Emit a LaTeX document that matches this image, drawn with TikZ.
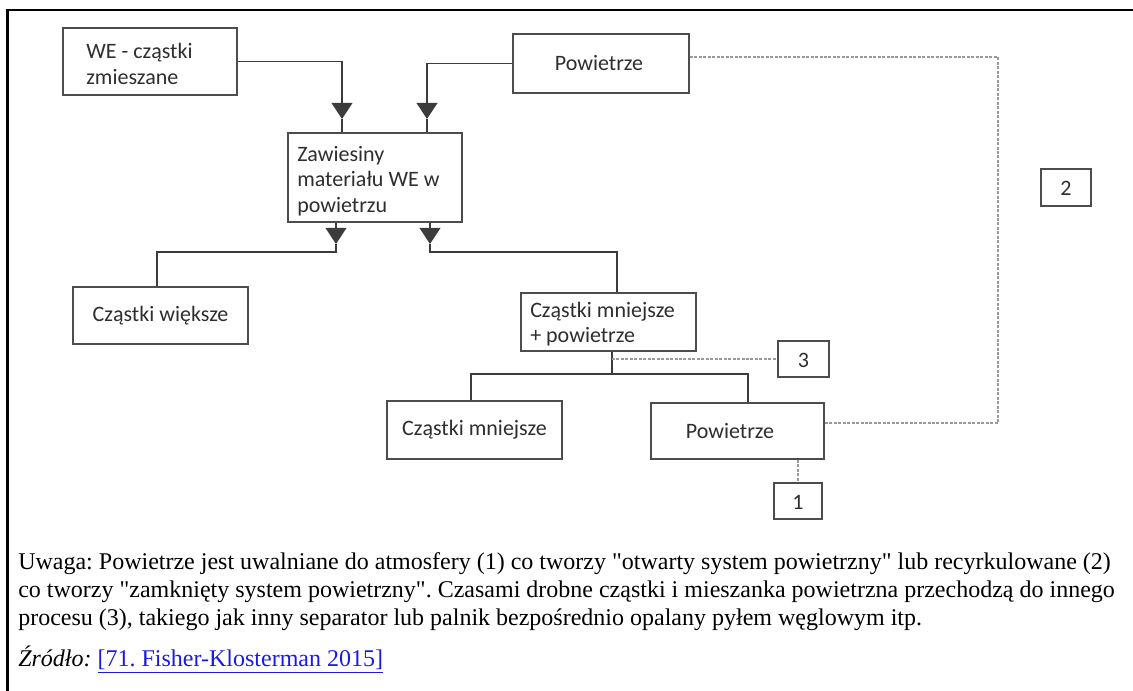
\documentclass[tikz,border=0pt]{standalone}
\usepackage{fontspec}
\setmainfont{Liberation Serif}[Ligatures=TeXOff]
\newfontfamily\boxfont{Carlito}
\usetikzlibrary{arrows.meta}
\definecolor{boxline}{HTML}{4D4D4D}
\definecolor{connline}{HTML}{3C3C3C}
\definecolor{dotline}{HTML}{9A9A9A}
\definecolor{boxtext}{HTML}{2E2E2E}
\definecolor{linkblue}{HTML}{1A1AE6}
\begin{document}
\frenchspacing
\begin{tikzpicture}[x=0.75pt,y=-0.75pt,
  box/.style={draw=boxline, line width=1.5pt, fill=white, inner sep=0pt},
  boxlabel/.style={font=\boxfont\fontsize{16.5}{19}\selectfont, text=boxtext, inner sep=0pt},
  conn/.style={draw=connline, line width=1.2pt},
  tipdown/.style={-{Triangle[width=15.5pt,length=12pt]}},
  recirc/.style={draw=dotline, line width=1.5pt, dash pattern=on 2.25pt off 1.1pt},
  note/.style={font=\fontsize{18}{21}\selectfont, anchor=base west, inner sep=0pt}]
\useasboundingbox (0,0) rectangle (1133,691);
% outer frame: top and left edges only
\draw[black, line width=1.9pt] (7.5,691) -- (7.5,10) -- (1133,10);

% process boxes
\node[box, minimum width=130.5pt, minimum height=50.25pt] (we) at (150,61.5) {};
\node[boxlabel, anchor=west, align=left] (wetext) at (86,64) {WE - cząstki\\zmieszane};
\node[box, minimum width=132pt, minimum height=44.25pt] (pow1) at (601,63.5) {};
\node[boxlabel] (pow1text) at (599,63.5) {Powietrze};
\node[box, minimum width=130.5pt, minimum height=66.75pt] (zaw) at (375,177.5) {};
\node[boxlabel, anchor=west, align=left] (zawtext) at (297,181) {Zawiesiny\\materiału WE w\\powietrzu};
\node[box, minimum width=131.25pt, minimum height=42.75pt] (wieksze) at (160.5,315.5) {};
\node[boxlabel] (wiekszetext) at (160.5,315.5) {Cząstki większe};
\node[box, minimum width=131.25pt, minimum height=43.5pt] (mp) at (608.5,322) {};
\node[boxlabel, anchor=west, align=left] (mptext) at (530,324) {Cząstki mniejsze\\+ powietrze};
\node[box, minimum width=131.25pt, minimum height=43.5pt] (mn) at (474.5,430) {};
\node[boxlabel] (mntext) at (474.5,430) {Cząstki mniejsze};
\node[box, minimum width=129.75pt, minimum height=42pt] (pow2) at (737.5,431) {};
\node[boxlabel] (pow2text) at (730,431) {Powietrze};

% numbered outlets
\node[box, minimum width=37.5pt, minimum height=27.75pt] (out2) at (1066,187.5) {};
\node[boxlabel] (out2text) at (1066,188) {2};
\node[box, minimum width=38.25pt, minimum height=27pt] (out3) at (803.5,359) {};
\node[boxlabel] (out3text) at (803.5,360) {3};
\node[box, minimum width=36pt, minimum height=27pt] (out1) at (798,501) {};
\node[boxlabel] (out1text) at (798,502) {1};

% junction points
\coordinate (a1) at (342,119);
\coordinate (a2) at (427,119);
\coordinate (b1) at (336,244);
\coordinate (b2) at (430,244);
\coordinate (j1) at (157,252);
\coordinate (j2) at (617,252);
\coordinate (j3) at (612,374);
\coordinate (j5) at (471,374);
\coordinate (j6) at (748,374);
\coordinate (c2) at (998,57);
\coordinate (c3) at (998,423);

% feeds into the suspension
\draw[conn, tipdown] (we.east) -| (a1);
\draw[conn] (a1) -- (a1 |- zaw.north);
\draw[conn, tipdown] (pow1.west) -| (a2);
\draw[conn] (a2) -- (a2 |- zaw.north);

% separation of the suspension
\draw[conn, tipdown] (b1 |- zaw.south) -- (b1);
\draw[conn] (b1) |- (j1) -- (j1 |- wieksze.north);
\draw[conn, tipdown] (b2 |- zaw.south) -- (b2);
\draw[conn] (b2) |- (j2) -- (j2 |- mp.north);

% second separation
\draw[conn] (j3 |- mp.south) -- (j3);
\draw[conn] (j5 |- mn.north) -- (j5) -- (j6) -- (j6 |- pow2.north);

% air routes
\draw[recirc] (j3 |- out3.west) -- (out3.west);
\draw[recirc] (pow1.east |- c2) -- (c2) -- (c3) -- (pow2.east |- c3);
\draw[recirc] (out1.north |- pow2.south) -- (out1.north);

% note below the diagram
\node[note] (l1) at (18,570) {Uwaga: Powietrze jest uwalniane do atmosfery (1) co tworzy "otwarty system powietrzny" lub recyrkulowane (2)};
\node[note] (l2) at (18,598) {co tworzy "zamknięty system powietrzny". Czasami drobne cząstki i mieszanka powietrzna przechodzą do innego};
\node[note] (l3) at (18,626) {procesu (3), takiego jak inny separator lub palnik bezpośrednio opalany pyłem węglowym itp.};
\node[note] (src) at (18,667) {\textit{Źródło:} \textcolor{linkblue}{\underline{[71. Fisher-Klosterman 2015]}}};
\end{tikzpicture}
\end{document}
